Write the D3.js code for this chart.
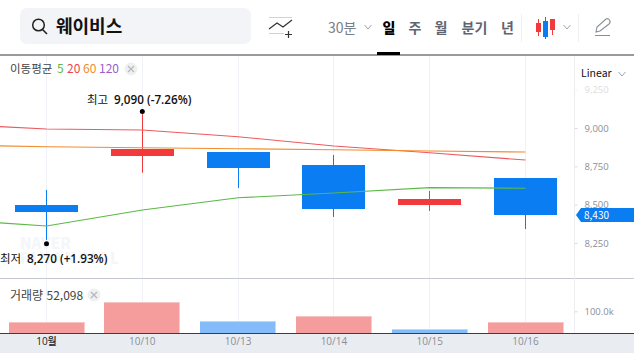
<!DOCTYPE html>
<html lang="ko">
<head>
<meta charset="UTF-8">
<title>웨이비스</title>
<script src="https://d3js.org/d3.v7.min.js"></script>
<style>
  html, body { margin: 0; padding: 0; background: #fff; overflow: hidden; }
  svg { display: block; }
  text { font-family: "Noto Sans CJK KR", sans-serif; }
  .tick text { font-family: "Open Sans", "Noto Sans CJK KR", sans-serif; }
</style>
</head>
<body>
<script>
// data
const dates = ["10월", "10/10", "10/13", "10/14", "10/15", "10/16"];
const opens = [8498, 8817, 8843, 8759, 8498, 8674];
const closes = [8452, 8863, 8739, 8472, 8537, 8430];
const highs = [8596, 9090, 8843, 8824, 8589, 8674];
const lows = [8270, 8708, 8609, 8420, 8459, 8341];
const volumes = [52000, 143000, 56000, 78000, 19000, 52098];
const volumeDown = [false, false, true, false, true, false];
// first value of each MA belongs to the session before 10월
const ma5 = [8403, 8361, 8465, 8545, 8576, 8611, 8607];
const ma20 = [9026, 8993, 8987, 8943, 8883, 8839, 8791];
const ma60 = [8889, 8878, 8871, 8865, 8858, 8850, 8843];
const priceTicks = [9250, 9000, 8750, 8500, 8250];
const volumeTicks = [100000];
const periods = ["일", "주", "월", "분기", "년"];

const width = 634, height = 353;
const up = "#f23a3c", down = "#0a7df2";

const svg = d3.select("body").append("svg").attr("width", width).attr("height", height);

const x = d3.scaleBand().domain(dates).range([-1.4, 573.4]);
const cx = i => x(dates[0]) + x.step() * (i + 0.5);
const y = d3.scaleLinear().domain([8250, 9000]).range([243, 128]);
const yVol = d3.scaleLinear().domain([0, 100000]).range([333, 311.3]);

// bottom date strip
svg.append("rect").attr("x", 0).attr("y", 333).attr("width", width).attr("height", 20).attr("fill", "#e9ecf1");

// vertical grid
svg.append("g").selectAll("line").data(dates).join("line")
  .attr("x1", d => Math.floor(x(d) + x.bandwidth() / 2) + 0.5)
  .attr("x2", d => Math.floor(x(d) + x.bandwidth() / 2) + 0.5)
  .attr("y1", 56).attr("y2", 333)
  .attr("stroke", "#eff2f6");

// watermark
svg.append("text").attr("x", 20).attr("y", 249).attr("font-size", 15).attr("font-weight", 900)
  .attr("fill", "#f5f6f9").text("NAVER");
svg.append("text").attr("x", 20).attr("y", 264).attr("font-size", 15).attr("font-weight", 900)
  .attr("fill", "#f5f6f9").attr("textLength", 99).text("FINANCIAL");

// volume bars
const volBars = svg.append("g").selectAll("g").data(volumes).join("g");
volBars.append("rect")
  .attr("x", (d, i) => Math.round(cx(i) - 38))
  .attr("width", 75.5)
  .attr("y", d => Math.round(yVol(d)))
  .attr("height", d => 333 - Math.round(yVol(d)))
  .attr("fill", (d, i) => volumeDown[i] ? "#83bcf8" : "#f59c9c");
volBars.append("rect")
  .attr("x", (d, i) => Math.round(cx(i) - 38))
  .attr("width", 75.5)
  .attr("y", d => Math.round(yVol(d)))
  .attr("height", 1)
  .attr("fill", (d, i) => volumeDown[i] ? "#bcd9f8" : "#f7c4c4");

// separators
svg.append("line").attr("x1", 0).attr("x2", width).attr("y1", 278.5).attr("y2", 278.5).attr("stroke", "#c6c6ce");
svg.append("line").attr("x1", 0).attr("x2", width).attr("y1", 333.5).attr("y2", 333.5).attr("stroke", "#3a3d42");
svg.append("line").attr("x1", 0).attr("x2", width).attr("y1", 55).attr("y2", 55).attr("stroke", "#33363a");

// candles
const candles = svg.append("g").selectAll("g").data(dates).join("g");
candles.append("line")
  .attr("x1", (d, i) => Math.floor(cx(i)) + 0.5)
  .attr("x2", (d, i) => Math.floor(cx(i)) + 0.5)
  .attr("y1", (d, i) => y(highs[i]))
  .attr("y2", (d, i) => y(lows[i]))
  .attr("stroke", (d, i) => closes[i] >= opens[i] ? up : down);
candles.append("rect")
  .attr("x", (d, i) => Math.round(cx(i) - 31.5))
  .attr("width", 63)
  .attr("y", (d, i) => Math.round(y(Math.max(opens[i], closes[i]))))
  .attr("height", (d, i) => Math.round(y(Math.min(opens[i], closes[i]))) - Math.round(y(Math.max(opens[i], closes[i]))))
  .attr("fill", (d, i) => closes[i] >= opens[i] ? up : down);

// moving averages
const maLine = d3.line().x((d, i) => cx(i - 1)).y(d => y(d));
[[ma5, "#5ab946"], [ma20, "#ec5a5e"], [ma60, "#f28c2d"]].forEach(([vals, color]) => {
  svg.append("path").attr("d", maLine(vals)).attr("fill", "none")
    .attr("stroke", color).attr("stroke-width", 1.1);
});

// high / low markers
const hiIdx = d3.maxIndex(highs), loIdx = d3.minIndex(lows);
svg.append("circle").attr("cx", cx(hiIdx)).attr("cy", y(highs[hiIdx]) - 2.7).attr("r", 2.5).attr("fill", "#000");
svg.append("circle").attr("cx", cx(loIdx)).attr("cy", y(lows[loIdx]) + 3.7).attr("r", 2.5).attr("fill", "#000");
const hi = svg.append("text").attr("x", 87).attr("y", 104).attr("font-size", 11.5).attr("fill", "#111");
hi.append("tspan").text("최고");
hi.append("tspan").attr("x", 114).attr("font-family", "Open Sans").attr("font-weight", 600).attr("font-size", 11.7).text("9,090 (-7.26%)");
const lo = svg.append("text").attr("x", 0).attr("y", 263).attr("font-size", 11.5).attr("fill", "#111");
lo.append("tspan").text("최저");
lo.append("tspan").attr("x", 27).attr("font-family", "Open Sans").attr("font-weight", 600).attr("font-size", 11.7).text("8,270 (+1.93%)");

// right axes
const priceAxis = svg.append("g").attr("transform", "translate(574.5,0)")
  .call(d3.axisRight(y).tickValues(priceTicks).tickSize(3).tickPadding(7).tickFormat(d3.format(",")));
const volAxis = svg.append("g").attr("transform", "translate(574.5,0)")
  .call(d3.axisRight(yVol).tickValues(volumeTicks).tickSize(3).tickPadding(7).tickFormat(d => d / 1000 + ".0k"));
[priceAxis, volAxis].forEach(g => {
  g.select(".domain").remove();
  g.selectAll("line").attr("stroke", "#d5d8de");
  g.selectAll("text").attr("fill", "#8a8e97").attr("font-size", 9.5);
});
priceAxis.selectAll(".tick").filter(d => d === 9250).attr("opacity", 0.3);
svg.append("line").attr("x1", 574.5).attr("x2", 574.5).attr("y1", 56).attr("y2", 333).attr("stroke", "#eceef1");

// last price flag
svg.append("path").attr("d", "M576,215 L581,208 H634 V222 H581 Z").attr("fill", down);
svg.append("text").attr("x", 584).attr("y", 218.5).attr("font-size", 10).attr("font-family", "Open Sans").attr("fill", "#fff")
  .text(d3.format(",")(closes[closes.length - 1]));

// date axis
const dateAxis = svg.append("g").attr("transform", "translate(0,333)")
  .call(d3.axisBottom(x).tickSize(0).tickPadding(5));
dateAxis.select(".domain").remove();
dateAxis.selectAll("text").attr("fill", "#8a8e97").attr("font-size", 10);
dateAxis.selectAll(".tick").filter(d => d === dates[0]).select("text")
  .attr("fill", "#222").attr("font-family", "Noto Sans CJK KR").attr("font-weight", 500);

// legends
const maLegend = svg.append("text").attr("x", 10).attr("y", 73).attr("font-size", 11.5).attr("fill", "#444");
maLegend.append("tspan").text("이동평균");
[["5", "#5ab946", 57], ["20", "#f0454a", 67], ["60", "#f28c2d", 83], ["120", "#9a5ecb", 99]].forEach(([t, c, px]) => {
  maLegend.append("tspan").attr("x", px).attr("fill", c).attr("font-size", 12).text(t);
});
const closeChip = (cxv, cyv) => {
  svg.append("circle").attr("cx", cxv).attr("cy", cyv).attr("r", 6.5).attr("fill", "#f0f0f2");
  svg.append("path").attr("d", `M${cxv - 3},${cyv - 3}L${cxv + 3},${cyv + 3}M${cxv + 3},${cyv - 3}L${cxv - 3},${cyv + 3}`)
    .attr("stroke", "#b5b7bc").attr("stroke-width", 1.2);
};
closeChip(131, 69);
svg.append("text").attr("x", 10).attr("y", 300).attr("font-size", 12).attr("fill", "#444")
  .text("거래량 " + d3.format(",")(volumes[volumes.length - 1]));
closeChip(94, 295);
svg.append("text").attr("x", 581).attr("y", 77).attr("font-size", 10.5).attr("font-family", "Open Sans").attr("fill", "#111").text("Linear");
const chevron = (cxv, cyv, c) => svg.append("path")
  .attr("d", `M${cxv - 3.5},${cyv - 2}L${cxv},${cyv + 2}L${cxv + 3.5},${cyv - 2}`)
  .attr("fill", "none").attr("stroke", c).attr("stroke-width", 1);
chevron(622, 74, "#a0a3a9");

// header
svg.append("rect").attr("x", 20).attr("y", 8).attr("width", 231).attr("height", 36).attr("rx", 7).attr("fill", "#f3f4f7");
svg.append("circle").attr("cx", 38.5).attr("cy", 25).attr("r", 5.8).attr("fill", "none").attr("stroke", "#222").attr("stroke-width", 1.5);
svg.append("line").attr("x1", 42.5).attr("y1", 29.5).attr("x2", 47).attr("y2", 34).attr("stroke", "#222").attr("stroke-width", 1.6);
svg.append("text").attr("x", 56).attr("y", 33).attr("font-size", 18).attr("font-weight", 700).attr("fill", "#111").text("웨이비스");

// indicator icon
const icon = svg.append("g").attr("fill", "none");
icon.append("line").attr("x1", 269).attr("x2", 292).attr("y1", 17.5).attr("y2", 17.5).attr("stroke", "#d0d2d6");
icon.append("line").attr("x1", 269).attr("x2", 284).attr("y1", 33.5).attr("y2", 33.5).attr("stroke", "#d0d2d6");
icon.append("path").attr("d", "M269,29 L277,23 L283,27 L292,20").attr("stroke", "#333").attr("stroke-width", 1.2);
icon.append("path").attr("d", "M288.5,31 V38 M285,34.5 H292").attr("stroke", "#333").attr("stroke-width", 1.2);

// period selector
svg.append("text").attr("x", 328).attr("y", 33).attr("font-size", 14).attr("fill", "#7a7e87").text("30분");
chevron(368, 27, "#a0a3a9");
const periodX = [389, 415, 441, 474.5, 507.5];
svg.append("g").selectAll("text").data(periods).join("text")
  .attr("x", (d, i) => periodX[i]).attr("y", 33).attr("text-anchor", "middle").attr("font-size", 14)
  .attr("font-weight", (d, i) => i === 0 ? 800 : 600)
  .attr("fill", (d, i) => i === 0 ? "#000" : "#5f6570")
  .text(d => d);
svg.append("rect").attr("x", 377).attr("y", 52).attr("width", 23).attr("height", 3).attr("fill", "#000");
svg.append("line").attr("x1", 521.5).attr("x2", 521.5).attr("y1", 14).attr("y2", 42).attr("stroke", "#eff0f2");
svg.append("line").attr("x1", 578.5).attr("x2", 578.5).attr("y1", 14).attr("y2", 42).attr("stroke", "#eff0f2");

// candle type icon
const ci = svg.append("g");
ci.append("rect").attr("x", 536).attr("y", 23).attr("width", 5).attr("height", 9).attr("fill", up);
ci.append("line").attr("x1", 538.5).attr("x2", 538.5).attr("y1", 19).attr("y2", 36).attr("stroke", up);
ci.append("rect").attr("x", 543).attr("y", 21).attr("width", 5).attr("height", 16).attr("fill", down);
ci.append("line").attr("x1", 545.5).attr("x2", 545.5).attr("y1", 17).attr("y2", 39).attr("stroke", down);
ci.append("rect").attr("x", 550).attr("y", 19).attr("width", 5).attr("height", 11).attr("fill", up);
ci.append("line").attr("x1", 552.5).attr("x2", 552.5).attr("y1", 19).attr("y2", 35).attr("stroke", up);
chevron(567, 27, "#a0a3a9");

// pencil icon
svg.append("path").attr("d", "M596,32 L597,27 L606,19 Q608,18 609.5,20 Q611,22 609,24 L600,31 Z").attr("fill", "none").attr("stroke", "#8a8e97").attr("stroke-width", 1.1);
svg.append("line").attr("x1", 595).attr("x2", 610).attr("y1", 35.5).attr("y2", 35.5).attr("stroke", "#8a8e97");
</script>
</body>
</html>
